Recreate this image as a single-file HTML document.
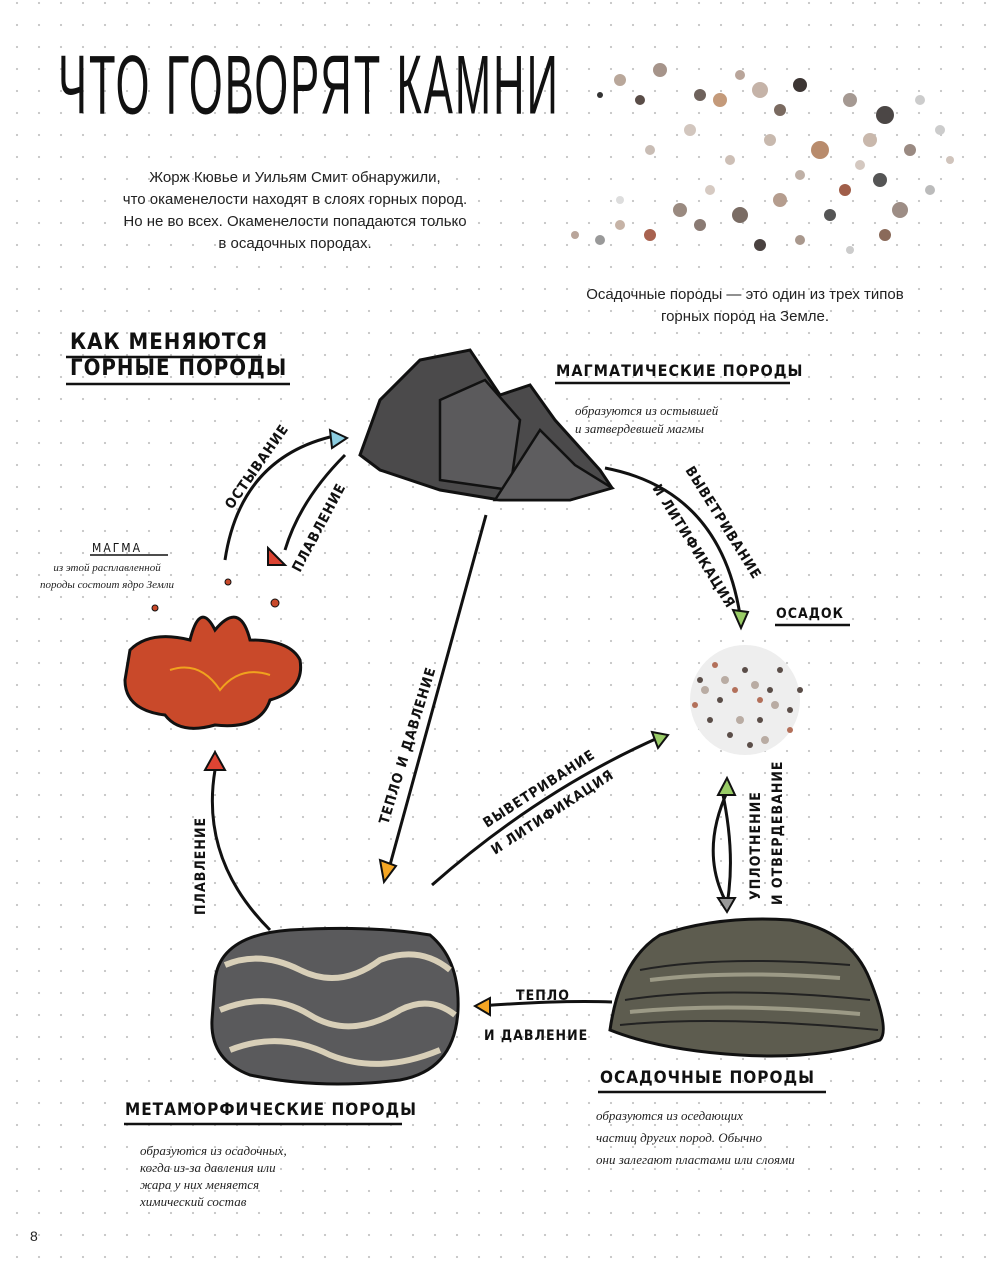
<!DOCTYPE html>
<html><head><meta charset="utf-8"><style>
body{margin:0;background:#fff}
#p{position:relative;width:1000px;height:1267px;overflow:hidden;
background-image:radial-gradient(circle,#c4c4c4 0.9px,transparent 1.3px);background-size:22px 22px;background-position:6px -8px;font-family:"Liberation Sans","DejaVu Sans",sans-serif}
.t{position:absolute;color:#222}
.h{font-family:"DejaVu Sans Condensed","Liberation Sans Narrow","Liberation Sans",sans-serif;font-weight:bold;color:#111}
.s{font-family:"Liberation Serif",serif;font-style:italic;color:#222;font-size:13px}
</style></head><body><div id="p">
<div class="t" style="left:58px;top:38px;font-family:'Liberation Sans Narrow','Liberation Sans',sans-serif;font-size:62px;letter-spacing:3px;transform:scaleY(1.35) scaleX(0.70);transform-origin:0 0;color:#111;white-space:nowrap">ЧТО ГОВОРЯТ КАМНИ</div>
<div class="t" style="left:90px;top:167px;width:410px;text-align:center;font-size:15px;line-height:22px;white-space:nowrap">Жорж Кювье и Уильям Смит обнаружили,<br>что окаменелости находят в слоях горных пород.<br>Но не во всех. Окаменелости попадаются только<br>в осадочных породах.</div>
<div class="t" style="left:545px;top:284px;width:400px;text-align:center;font-size:15px;line-height:22px;white-space:nowrap">Осадочные породы — это один из трех типов<br>горных пород на Земле.</div>
<div class="t h" style="left:70px;top:330px;font-size:22px;line-height:26px;letter-spacing:1px">КАК МЕНЯЮТСЯ<br>ГОРНЫЕ ПОРОДЫ</div>
<div class="t h" style="left:556px;top:361px;font-size:16px;letter-spacing:1px">МАГМАТИЧЕСКИЕ ПОРОДЫ</div>
<div class="t s" style="left:575px;top:402px;line-height:18px">образуются из остывшей<br>и затвердевшей магмы</div>
<div class="t h" style="left:92px;top:541px;font-size:12px;letter-spacing:2px;font-weight:normal">МАГМА</div>
<div class="t s" style="left:40px;top:560px;font-size:11px;line-height:17px;text-align:center">из этой расплавленной<br>породы состоит ядро Земли</div>
<div class="t h" style="left:776px;top:606px;font-size:14px;letter-spacing:1px">ОСАДОК</div>
<div class="t h" style="left:600px;top:1068px;font-size:17px;letter-spacing:1px">ОСАДОЧНЫЕ ПОРОДЫ</div>
<div class="t s" style="left:596px;top:1105px;line-height:22px">образуются из оседающих<br>частиц других пород. Обычно<br>они залегают пластами или слоями</div>
<div class="t h" style="left:125px;top:1100px;font-size:17px;letter-spacing:1px">МЕТАМОРФИЧЕСКИЕ ПОРОДЫ</div>
<div class="t s" style="left:140px;top:1142px;line-height:17px">образуются из осадочных,<br>когда из-за давления или<br>жара у них меняется<br>химический состав</div>
<div class="t" style="left:30px;top:1228px;font-size:14px">8</div>
<svg width="1000" height="1267" style="position:absolute;left:0;top:0" font-family="DejaVu Sans Condensed,Liberation Sans,sans-serif" font-weight="bold" fill="#111">
<g stroke="#111" stroke-width="2.5"><line x1="66" y1="357" x2="262" y2="357"/><line x1="66" y1="384" x2="290" y2="384"/><line x1="555" y1="383" x2="790" y2="383"/><line x1="775" y1="625" x2="850" y2="625"/><line x1="598" y1="1092" x2="826" y2="1092"/><line x1="124" y1="1124" x2="402" y2="1124"/><line x1="90" y1="555" x2="168" y2="555" stroke-width="1.5"/></g>
<g>
<circle cx="620" cy="80" r="6" fill="#b9a79a"/><circle cx="660" cy="70" r="7" fill="#a6948a"/><circle cx="700" cy="95" r="6" fill="#6e625c"/><circle cx="720" cy="100" r="7" fill="#c49a7a"/><circle cx="760" cy="90" r="8" fill="#c5b3a8"/><circle cx="800" cy="85" r="7" fill="#3d3634"/><circle cx="780" cy="110" r="6" fill="#7a6a60"/><circle cx="850" cy="100" r="7" fill="#a59992"/><circle cx="885" cy="115" r="9" fill="#4b4645"/><circle cx="870" cy="140" r="7" fill="#c9b8ac"/><circle cx="820" cy="150" r="9" fill="#b88b6c"/><circle cx="910" cy="150" r="6" fill="#9a8a82"/><circle cx="880" cy="180" r="7" fill="#555"/><circle cx="845" cy="190" r="6" fill="#a05e49"/><circle cx="900" cy="210" r="8" fill="#9d8d85"/><circle cx="885" cy="235" r="6" fill="#8a6a5a"/><circle cx="830" cy="215" r="6" fill="#555"/><circle cx="780" cy="200" r="7" fill="#b59d8e"/><circle cx="740" cy="215" r="8" fill="#7a6c64"/><circle cx="700" cy="225" r="6" fill="#8a7a73"/><circle cx="680" cy="210" r="7" fill="#9a8a80"/><circle cx="650" cy="235" r="6" fill="#a8624f"/><circle cx="620" cy="225" r="5" fill="#c6b3a6"/><circle cx="600" cy="240" r="5" fill="#999"/><circle cx="575" cy="235" r="4" fill="#b9a59a"/><circle cx="760" cy="245" r="6" fill="#4a4240"/><circle cx="800" cy="240" r="5" fill="#a9988d"/><circle cx="930" cy="190" r="5" fill="#bbb"/><circle cx="940" cy="130" r="5" fill="#ccc"/><circle cx="640" cy="100" r="5" fill="#5a4d48"/><circle cx="600" cy="95" r="3" fill="#333"/><circle cx="740" cy="75" r="5" fill="#b9a59a"/>
<circle cx="650" cy="150" r="5" fill="#c9bdb5"/><circle cx="690" cy="130" r="6" fill="#d2c6be"/><circle cx="730" cy="160" r="5" fill="#cdbfb6"/><circle cx="770" cy="140" r="6" fill="#c8b9ae"/><circle cx="800" cy="175" r="5" fill="#bfb0a6"/><circle cx="860" cy="165" r="5" fill="#d4c8c0"/><circle cx="920" cy="100" r="5" fill="#ccc"/><circle cx="620" cy="200" r="4" fill="#ddd"/><circle cx="710" cy="190" r="5" fill="#d6cac2"/><circle cx="850" cy="250" r="4" fill="#ccc"/><circle cx="950" cy="160" r="4" fill="#d0c4bc"/>
</g>
<path d="M360 455 L380 400 L420 360 L470 350 L500 395 L530 385 L555 420 L600 470 L612 488 L570 500 L500 500 L440 490 L380 470Z" fill="#4b4a4b" stroke="#111" stroke-width="3"/>
<path d="M440 400 L485 380 L520 420 L510 490 L440 480Z" fill="#5b5a5c" stroke="#111" stroke-width="2.5"/>
<path d="M495 500 L540 430 L575 465 L612 488 L570 500Z" fill="#5e5d5f" stroke="#111" stroke-width="2.5"/>
<path d="M130 650 Q150 630 190 640 Q200 600 215 630 Q240 600 250 640 Q290 640 300 660 Q305 690 270 700 Q260 730 215 725 Q180 735 165 715 Q125 710 125 680Z" fill="#c9492a" stroke="#111" stroke-width="3"/>
<path d="M170 670 Q200 660 220 690 Q240 665 270 675" stroke="#f0a21e" stroke-width="2" fill="none"/>
<circle cx="275" cy="603" r="4" fill="#c9492a" stroke="#111"/><circle cx="155" cy="608" r="3" fill="#c9492a" stroke="#111"/><circle cx="228" cy="582" r="3" fill="#c9492a" stroke="#111"/>
<g>
<circle cx="745" cy="700" r="55" fill="#eee"/>
<g fill="#5a4d48"><circle cx="700" cy="680" r="3"/><circle cx="720" cy="700" r="3"/><circle cx="745" cy="670" r="3"/><circle cx="770" cy="690" r="3"/><circle cx="790" cy="710" r="3"/><circle cx="760" cy="720" r="3"/><circle cx="730" cy="735" r="3"/><circle cx="710" cy="720" r="3"/><circle cx="780" cy="670" r="3"/><circle cx="800" cy="690" r="3"/><circle cx="750" cy="745" r="3"/></g>
<g fill="#b3705a"><circle cx="735" cy="690" r="3"/><circle cx="760" cy="700" r="3"/><circle cx="715" cy="665" r="3"/><circle cx="790" cy="730" r="3"/><circle cx="695" cy="705" r="3"/></g>
<g fill="#b9aca3"><circle cx="725" cy="680" r="4"/><circle cx="755" cy="685" r="4"/><circle cx="775" cy="705" r="4"/><circle cx="740" cy="720" r="4"/><circle cx="705" cy="690" r="4"/><circle cx="765" cy="740" r="4"/></g>
</g>
<path d="M610 1030 Q620 960 660 935 Q720 915 790 920 Q850 930 870 980 Q890 1030 880 1040 Q820 1060 740 1055 Q660 1050 610 1030Z" fill="#5d5c4f" stroke="#111" stroke-width="3"/>
<g stroke="#222" stroke-width="2" fill="none"><path d="M640 970 Q720 955 850 965"/><path d="M625 1000 Q720 985 870 1000"/><path d="M620 1025 Q720 1015 878 1030"/></g>
<g stroke="#9c9a86" stroke-width="4" fill="none"><path d="M650 980 Q730 970 840 978"/><path d="M630 1012 Q730 1002 860 1014"/></g>
<path d="M215 980 Q220 935 290 930 Q370 925 430 935 Q460 960 458 1010 Q455 1070 400 1080 Q320 1090 250 1075 Q210 1060 212 1020Z" fill="#5a5a5c" stroke="#111" stroke-width="3"/>
<g stroke="#d8cfb8" stroke-width="6" fill="none"><path d="M225 965 Q260 950 300 970 Q340 990 380 960 Q420 945 450 970"/><path d="M220 1010 Q270 990 310 1015 Q350 1040 400 1010 Q430 995 455 1015"/><path d="M230 1050 Q280 1030 330 1055 Q380 1075 440 1050"/></g>
<g stroke="#111" stroke-width="3" fill="none">
<path d="M225 560 Q240 460 330 437"/>
<path d="M345 455 Q300 500 285 550"/>
<path d="M605 468 Q720 490 740 615"/>
<path d="M486 515 L390 865"/>
<path d="M432 885 Q540 790 660 737"/>
<path d="M722 790 Q735 850 728 898"/>
<path d="M725 900 Q700 850 728 790"/>
<path d="M612 1002 Q560 1000 480 1006"/>
<path d="M270 930 Q200 860 215 770"/>
</g>
<polygon points="330,430 347,438 332,448" fill="#8ccde0" stroke="#111" stroke-width="2"/>
<polygon points="268,548 285,565 268,565" fill="#d43" stroke="#111" stroke-width="2"/>
<polygon points="733,610 748,612 741,628" fill="#9c6" stroke="#111" stroke-width="2"/>
<polygon points="380,860 396,866 384,882" fill="#f5a623" stroke="#111" stroke-width="2"/>
<polygon points="652,732 668,735 658,748" fill="#9c6" stroke="#111" stroke-width="2"/>
<polygon points="718,795 735,795 727,778" fill="#9c6" stroke="#111" stroke-width="2"/>
<polygon points="718,898 735,898 727,912" fill="#999" stroke="#111" stroke-width="2"/>
<polygon points="490,998 490,1015 475,1006" fill="#f5a623" stroke="#111" stroke-width="2"/>
<polygon points="205,770 225,770 215,752" fill="#d43" stroke="#111" stroke-width="2"/>
<g font-size="14" letter-spacing="1">
<text transform="translate(232,510) rotate(-55)">ОСТЫВАНИЕ</text>
<text transform="translate(300,573) rotate(-62)">ПЛАВЛЕНИЕ</text>
<text transform="translate(685,470) rotate(58)">ВЫВЕТРИВАНИЕ</text>
<text transform="translate(652,488) rotate(58)">И ЛИТИФИКАЦИЯ</text>
<text transform="translate(388,825) rotate(-73)">ТЕПЛО И ДАВЛЕНИЕ</text>
<text transform="translate(487,828) rotate(-33)">ВЫВЕТРИВАНИЕ</text>
<text transform="translate(495,855) rotate(-33)">И ЛИТИФИКАЦИЯ</text>
<text transform="translate(760,900) rotate(-90)">УПЛОТНЕНИЕ</text>
<text transform="translate(782,905) rotate(-90)">И ОТВЕРДЕВАНИЕ</text>
<text x="516" y="1000">ТЕПЛО</text>
<text x="484" y="1040">И ДАВЛЕНИЕ</text>
<text transform="translate(205,915) rotate(-90)">ПЛАВЛЕНИЕ</text>
</g>
</svg>
</div></body></html>
